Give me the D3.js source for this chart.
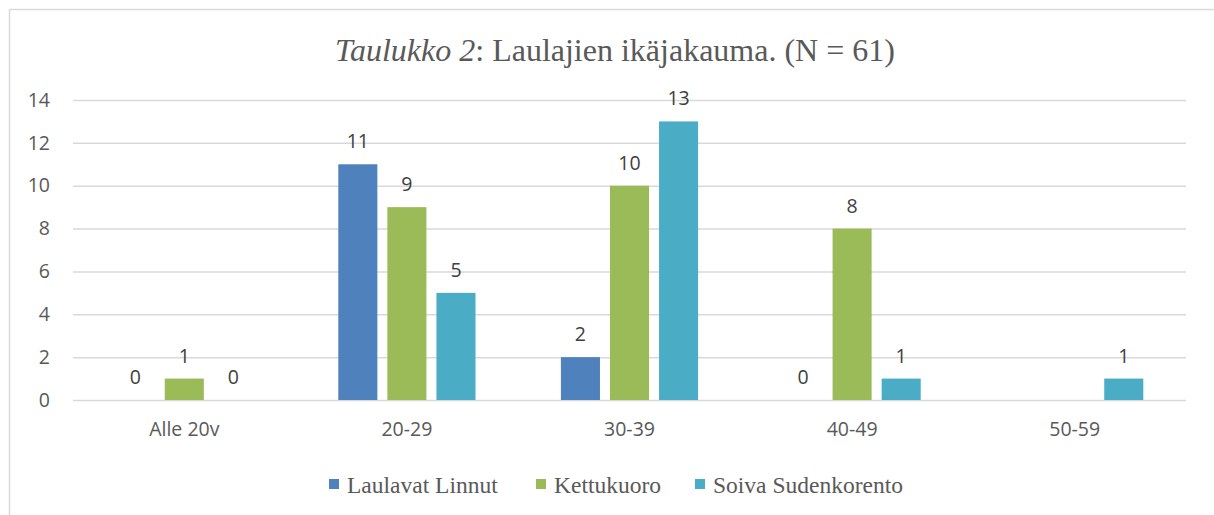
<!DOCTYPE html>
<html>
<head>
<meta charset="utf-8">
<script src="https://cdn.jsdelivr.net/npm/d3@7.9.0/dist/d3.min.js"></script>
<style>
  body { margin: 0; background: #fff; }
  svg { display: block; }
</style>
</head>
<body>
<div id="chart"></div>
<script>
const categories = ["Alle 20v", "20-29", "30-39", "40-49", "50-59"];
const seriesNames = ["Laulavat Linnut", "Kettukuoro", "Soiva Sudenkorento"];
const laulavatLinnut = [0, 11, 2, 0, null];
const kettukuoro = [1, 9, 10, 8, null];
const soivaSudenkorento = [0, 5, 13, 1, 1];
const yTicks = [0, 2, 4, 6, 8, 10, 12, 14];
const colors = ["#4f81bd", "#9bbb59", "#4bacc6"];

const width = 1214;
const height = 515;
const seriesValues = [laulavatLinnut, kettukuoro, soivaSudenkorento];

const svg = d3.select("#chart")
  .append("svg")
  .attr("width", width)
  .attr("height", height);

// chart frame (only top and left edges are visible in the picture)
svg.append("path")
  .attr("d", `M9.5,${height} V9.5 H${width}`)
  .attr("fill", "none")
  .attr("stroke", "#d9d9d9")
  .attr("stroke-width", 1.5);

const plot = { left: 73, right: 1186, top: 100, bottom: 400 };

const xScale = d3.scaleBand()
  .domain(categories)
  .range([plot.left, plot.right]);

const yScale = d3.scaleLinear()
  .domain([0, 14])
  .range([plot.bottom, plot.top]);

// bars inside each group
const inner = d3.scaleBand()
  .domain(seriesNames)
  .range([0, xScale.bandwidth()])
  .paddingInner(0.204)
  .paddingOuter(0.87);

const axisFont = "'Open Sans', sans-serif";

// gridlines
svg.append("g")
  .attr("class", "gridlines")
  .attr("transform", `translate(${plot.left},0)`)
  .call(d3.axisLeft(yScale).tickValues(yTicks).tickFormat("").tickSize(-(plot.right - plot.left)))
  .call(g => g.select(".domain").remove())
  .call(g => g.selectAll("line").attr("stroke", "#d9d9d9").attr("stroke-width", 1.5));

// y axis labels
svg.append("g")
  .attr("transform", `translate(${plot.left},0)`)
  .call(d3.axisLeft(yScale).tickValues(yTicks).tickSize(0).tickPadding(23))
  .call(g => g.select(".domain").remove())
  .call(g => g.selectAll("text")
    .attr("fill", "#595959")
    .attr("font-family", axisFont)
    .attr("font-size", 19.5));

// x axis labels
svg.append("g")
  .attr("transform", `translate(0,${plot.bottom})`)
  .call(d3.axisBottom(xScale).tickSize(0).tickPadding(22))
  .call(g => g.select(".domain").remove())
  .call(g => g.selectAll("text")
    .attr("fill", "#595959")
    .attr("font-family", axisFont)
    .attr("font-size", 19.5));

const rows = [];
categories.forEach((c, i) => {
  seriesNames.forEach((s, j) => {
    rows.push({ category: c, series: s, value: seriesValues[j][i], color: colors[j] });
  });
});
const present = rows.filter(d => d.value !== null);

svg.append("g")
  .selectAll("rect")
  .data(present)
  .join("rect")
  .attr("x", d => xScale(d.category) + inner(d.series))
  .attr("width", inner.bandwidth())
  .attr("y", d => yScale(d.value))
  .attr("height", d => yScale(0) - yScale(d.value))
  .attr("fill", d => d.color);

svg.append("g")
  .selectAll("text")
  .data(present)
  .join("text")
  .attr("x", d => xScale(d.category) + inner(d.series) + inner.bandwidth() / 2)
  .attr("y", d => yScale(d.value) - 16)
  .attr("text-anchor", "middle")
  .attr("fill", "#404040")
  .attr("font-family", axisFont)
  .attr("font-size", 19.5)
  .text(d => d.value);

// title
const title = svg.append("text")
  .attr("x", 615)
  .attr("y", 61)
  .attr("text-anchor", "middle")
  .attr("fill", "#595959")
  .attr("font-family", "'Liberation Serif', 'Times New Roman', serif")
  .attr("font-size", 32);
title.append("tspan").attr("font-style", "italic").text("Taulukko 2");
title.append("tspan").text(": Laulajien ikäjakauma. (N = 61)");

// legend
const legendX = [329, 536, 695];
const legend = svg.append("g")
  .selectAll("g")
  .data(seriesNames)
  .join("g")
  .attr("transform", (d, i) => `translate(${legendX[i]},479)`);
legend.append("rect")
  .attr("width", 10)
  .attr("height", 10)
  .attr("fill", (d, i) => colors[i]);
legend.append("text")
  .attr("x", 18)
  .attr("y", 14)
  .attr("fill", "#595959")
  .attr("font-family", "'Liberation Serif', 'Times New Roman', serif")
  .attr("font-size", 23.5)
  .text(d => d);
</script>
</body>
</html>
